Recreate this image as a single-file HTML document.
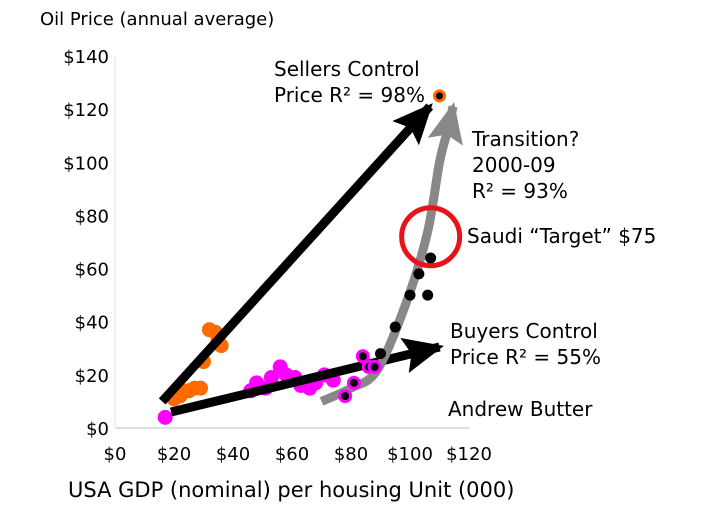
<!DOCTYPE html>
<html><head><meta charset="utf-8"><style>
html,body{margin:0;padding:0;background:#fff;}
svg{display:block;font-family:"DejaVu Sans","Liberation Sans",sans-serif;}
text{font-size:17px;fill:#000;}
</style></head><body>
<svg id="chart" width="720" height="528" viewBox="0 0 720 528"></svg>
<script>
const xTicks=[0,20,40,60,80,100,120];
const yTicks=[0,20,40,60,80,100,120,140];
const orangeX=[32,34,35,36,30,20,22,23,25,27,29];
const orangeY=[37,36,33,31,25,11,12,14,14,15,15];
const latestX=[110];const latestY=[125];
const magentaX=[17,46,48,51,53,56,58,61,63,66,68,71,74];
const magentaY=[4,14,17,15,19,23,20,19,16,15,17,20,18];
const ringX=[84,86,88,81,78];
const ringY=[27,23,23,17,12];
const blackX=[90,95,100,103,107,106];
const blackY=[28,38,50,58,64,50];
const sellerLine=[[16,10],[106.7,121]];
const buyerLine=[[19,6],[110,30.5]];
const transX=[70,80,89,99,106,110,113,114.6];
const transY=[10,15,22,48,74,100,113,121];
const targetX=[107];const targetY=[72];

const NS="http://www.w3.org/2000/svg";
const svg=document.getElementById('chart');
const X=v=>115+v*2.95;
const Y=v=>428-v*2.657;
function mk(t,a){const e=document.createElementNS(NS,t);for(const k in a)e.setAttribute(k,a[k]);svg.appendChild(e);return e;}
function txt(x,y,s,anchor){const e=mk('text',{x:x,y:y,'text-anchor':anchor||'start'});e.textContent=s;return e;}

let ax=mk('line',{x1:X(0),y1:Y(0),x2:X(120),y2:Y(0),stroke:'#dde',"stroke-width":2});

let ay=mk('line',{x1:X(0),y1:Y(0),x2:X(0),y2:Y(140),stroke:'#eee',"stroke-width":1.5});

xTicks.forEach(v=>{const t=txt(X(v),Y(0)+32,'$'+v,'middle');t.style.fontSize='18px';
});
yTicks.forEach(v=>{const t=txt(X(0)-6,Y(v)+7,'$'+v,'end');t.style.fontSize='18px';
});

const defs=mk('defs',{});
function marker(id,color){const m=document.createElementNS(NS,'marker');
m.setAttribute('id',id);m.setAttribute('markerWidth','4.5');m.setAttribute('markerHeight','4');
m.setAttribute('refX','4');m.setAttribute('refY','2');m.setAttribute('orient','auto');m.setAttribute('markerUnits','strokeWidth');
m.setAttribute('viewBox','0 0 4.5 4');
const p=document.createElementNS(NS,'path');p.setAttribute('d','M0,0 L4.5,2 L0,4 L0.8,2 Z');p.setAttribute('fill',color);m.appendChild(p);defs.appendChild(m);}
marker('hb','#000');marker('hg','#888');

function dots(xs,ys,fill,r,stroke,name){xs.forEach((v,i)=>{const c=mk('circle',{cx:X(v),cy:Y(ys[i]),r:r,fill:fill});
if(stroke){c.setAttribute('stroke',stroke);c.setAttribute('stroke-width',3);}
});}

dots(orangeX,orangeY,'#ff6a00',7.5,null,'orange-point');
dots(magentaX,magentaY,'#ff00ff',7.5,null,'magenta-point');

let s=mk('line',{x1:X(sellerLine[0][0]),y1:Y(sellerLine[0][1]),x2:X(sellerLine[1][0]),y2:Y(sellerLine[1][1]),stroke:'#000','stroke-width':9,'marker-end':'url(#hb)'});

let b=mk('line',{x1:X(buyerLine[0][0]),y1:Y(buyerLine[0][1]),x2:X(buyerLine[1][0]),y2:Y(buyerLine[1][1]),stroke:'#000','stroke-width':9,'marker-end':'url(#hb)'});


const P=transX.map((v,i)=>[X(v),Y(transY[i])]);
let d='M'+P[0][0]+','+P[0][1];
for(let i=0;i<P.length-1;i++){const p0=P[i-1]||P[i],p1=P[i],p2=P[i+1],p3=P[i+2]||P[i+1];
d+=' C'+(p1[0]+(p2[0]-p0[0])/6)+','+(p1[1]+(p2[1]-p0[1])/6)+' '+(p2[0]-(p3[0]-p1[0])/6)+','+(p2[1]-(p3[1]-p1[1])/6)+' '+p2[0]+','+p2[1];}
let g=mk('path',{d:d,fill:'none',stroke:'#888','stroke-width':9,'stroke-linejoin':'round','marker-end':'url(#hg)'});


dots(ringX,ringY,'#000',5.5,'#ff00ff','ringed-point');
dots(blackX,blackY,'#000',5.5,null,'black-point');
dots(latestX,latestY,'#000',5,'#ff6a00','latest-point');

let rc=mk('circle',{cx:X(targetX[0]),cy:Y(targetY[0]),r:29,fill:'none',stroke:'#e8121a','stroke-width':5});


const labels=[[40,25,'Oil Price (annual average)','chart-title',18],
[68,497,'USA GDP (nominal) per housing Unit (000)','x-axis-title',21],
[274,76,'Sellers Control','sellers-label',20],[274,102,'Price R² = 98%','sellers-label',20],
[472,146,'Transition?','transition-label',20],[472,172,'2000-09','transition-label',20],[472,198,'R² = 93%','transition-label',20],
[467,243,'Saudi “Target” $75','saudi-target-label',20],
[450,338,'Buyers Control','buyers-label',20],[450,364,'Price R² = 55%','buyers-label',20],
[448,416,'Andrew Butter','author-label',20]];
labels.forEach(l=>{const t=txt(l[0],l[1],l[2]);if(l[4])t.style.fontSize=l[4]+'px';
});
</script>
</body></html>
